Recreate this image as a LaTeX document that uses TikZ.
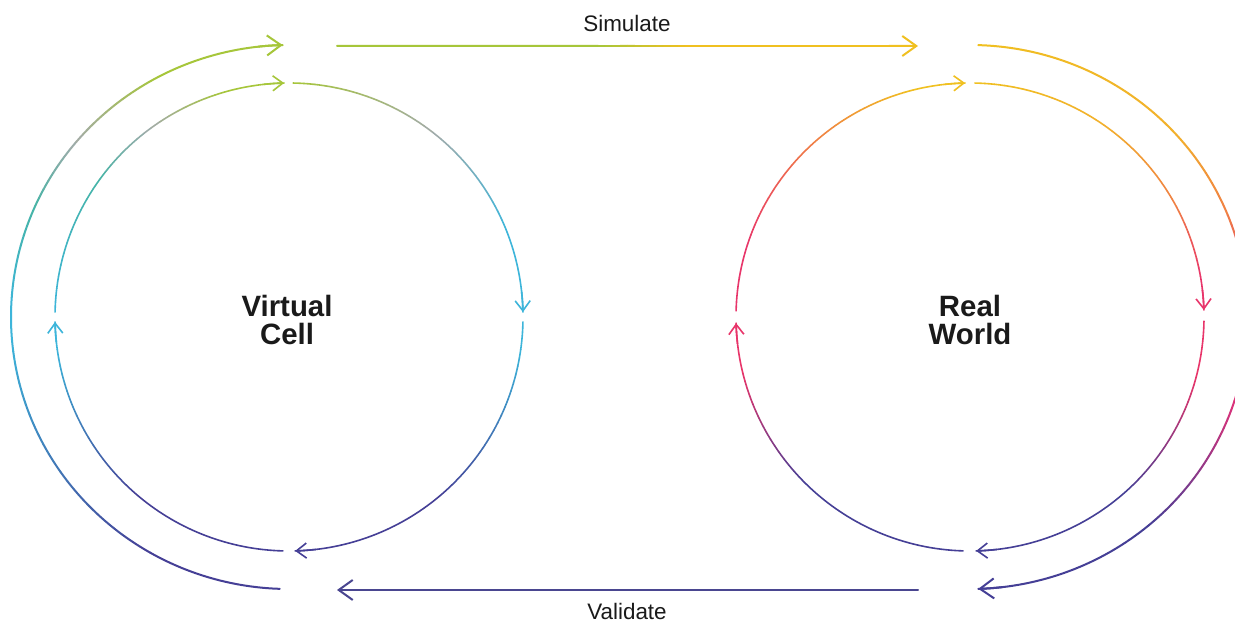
\documentclass[tikz,border=0pt]{standalone}
\usepackage{fontspec}
\setmainfont{Liberation Sans}
\usetikzlibrary{arrows.meta,calc}
\definecolor{lime}{HTML}{A6C63A}
\definecolor{cyanc}{HTML}{3DB5DA}
\definecolor{navy}{HTML}{453F96}
\definecolor{greyc}{HTML}{A3ABA9}
\definecolor{tealc}{HTML}{46B4A6}
\definecolor{yell}{HTML}{F0C020}
\definecolor{yello}{HTML}{F2B02C}
\definecolor{orng}{HTML}{F07E45}
\definecolor{pinkc}{HTML}{E8356A}
\definecolor{magc}{HTML}{DF3279}
\definecolor{valc}{HTML}{4A4690}
\definecolor{txt}{HTML}{1A1A1A}

\newcommand\gradArc[8]{% center, rx, ry, a0, a1, colA, colB, N
  \foreach \k in {1,...,#8}{%
    \pgfmathsetmacro\gsa{(#4)+((#5)-(#4))*(\k-1)/#8}%
    \pgfmathsetmacro\gea{(#4)+((#5)-(#4))*\k/#8}%
    \pgfmathtruncatemacro\gpc{100*(\k-0.5)/#8}%
    \colorlet{segc}{#7!\gpc!#6}%
    \draw[segc] (#1) ++(\gsa:#2 and #3) arc[start angle=\gsa, end angle=\gea, x radius=#2, y radius=#3];
  }}
\newcommand\arcTip[6]{% center, rx, ry, end angle, colour, tip style
  \draw[#5, #6] (#1) ++({(#4)+5}:#2 and #3) arc[start angle={(#4)+5}, end angle=#4, x radius=#2, y radius=#3];}
\newcommand\gradSeg[7]{% A, B, t0, t1, colA, colB, N
  \foreach \k in {1,...,#7}{%
    \pgfmathsetmacro\gta{(#3)+((#4)-(#3))*(\k-1)/#7}%
    \pgfmathsetmacro\gtb{(#3)+((#4)-(#3))*\k/#7}%
    \pgfmathtruncatemacro\gpc{100*(\k-0.5)/#7}%
    \colorlet{segc}{#6!\gpc!#5}%
    \draw[segc] ($(#1)!\gta!(#2)$) -- ($(#1)!\gtb!(#2)$);
  }}

\tikzset{
  bigtip/.style={-{Straight Barb[length=14bp,width=20bp,line width=2bp]}},
  smalltip/.style={-{Straight Barb[length=10bp,width=15bp,line width=1.6bp]}},
  outer/.style={line width=2bp, line cap=round},
  inner/.style={line width=1.6bp, line cap=round},
  biglbl/.style={font=\bfseries\fontsize{29.5}{28}\selectfont, text=txt, align=center, inner sep=0pt},
  lbl/.style={font=\fontsize{22.5}{27}\selectfont, text=txt, inner sep=0pt, anchor=base},
}

\begin{document}
\begin{tikzpicture}[x=1bp,y=1bp]
\useasboundingbox (0,0) rectangle (1235,624);
\fill[white] (0,0) rectangle (1235,624);
\clip (0,0) rectangle (1235,624);

\coordinate (L) at (289,307);
\coordinate (R) at (970,307);
\coordinate (simA) at (337,578);
\coordinate (simB) at (918,578);
\coordinate (valA) at (918,34);
\coordinate (valB) at (337,34);

% ---------- left circle, inner ----------
\begin{scope}[inner]
\gradArc{L}{234bp}{234bp}{89}{52}{lime}{greyc}{14}
\gradArc{L}{234bp}{234bp}{52}{22}{greyc}{cyanc}{12}
\gradArc{L}{234bp}{234bp}{22}{1.2}{cyanc}{cyanc}{2}
\arcTip{L}{234bp}{234bp}{1.2}{cyanc}{smalltip}
\gradArc{L}{234bp}{234bp}{-1.2}{-8}{cyanc}{cyanc}{1}
\gradArc{L}{234bp}{234bp}{-8}{-50}{cyanc}{navy}{20}
\gradArc{L}{234bp}{234bp}{-50}{-88.5}{navy}{navy}{1}
\arcTip{L}{234bp}{234bp}{-88.5}{navy}{smalltip}
\gradArc{L}{234bp}{234bp}{-91.5}{-130}{navy}{navy}{1}
\gradArc{L}{234bp}{234bp}{-130}{-172}{navy}{cyanc}{20}
\gradArc{L}{234bp}{234bp}{-172}{-178.8}{cyanc}{cyanc}{1}
\arcTip{L}{234bp}{234bp}{-178.8}{cyanc}{smalltip}
\gradArc{L}{234bp}{234bp}{-181.2}{-216}{cyanc}{tealc}{12}
\gradArc{L}{234bp}{234bp}{-216}{-234}{tealc}{greyc}{8}
\gradArc{L}{234bp}{234bp}{-234}{-254}{greyc}{lime}{8}
\gradArc{L}{234bp}{234bp}{-254}{-268.8}{lime}{lime}{2}
\arcTip{L}{234bp}{234bp}{-268.8}{lime}{smalltip}
\end{scope}

% ---------- left circle, outer ----------
\begin{scope}[outer]
\gradArc{L}{278bp}{272bp}{-91.9}{-120}{navy}{navy}{1}
\gradArc{L}{278bp}{272bp}{-120}{-175}{navy}{cyanc}{24}
\gradArc{L}{278bp}{272bp}{-175}{-182}{cyanc}{cyanc}{1}
\gradArc{L}{278bp}{272bp}{-182}{-204}{cyanc}{tealc}{10}
\gradArc{L}{278bp}{272bp}{-204}{-220}{tealc}{greyc}{8}
\gradArc{L}{278bp}{272bp}{-220}{-242}{greyc}{lime}{10}
\gradArc{L}{278bp}{272bp}{-242}{-268.7}{lime}{lime}{2}
\arcTip{L}{278bp}{272bp}{-268.7}{lime}{bigtip}
\end{scope}

% ---------- right circle, inner ----------
\begin{scope}[inner]
\gradArc{R}{234bp}{234bp}{88.8}{55}{yell}{yello}{14}
\gradArc{R}{234bp}{234bp}{55}{28}{yello}{orng}{12}
\gradArc{R}{234bp}{234bp}{28}{10}{orng}{pinkc}{8}
\gradArc{R}{234bp}{234bp}{10}{1.7}{pinkc}{pinkc}{1}
\arcTip{R}{234bp}{234bp}{1.7}{pinkc}{smalltip}
\gradArc{R}{234bp}{234bp}{-1}{-15}{pinkc}{pinkc}{1}
\gradArc{R}{234bp}{234bp}{-15}{-48}{pinkc}{navy}{16}
\gradArc{R}{234bp}{234bp}{-48}{-88.5}{navy}{navy}{1}
\arcTip{R}{234bp}{234bp}{-88.5}{navy}{smalltip}
\gradArc{R}{234bp}{234bp}{-91.7}{-135}{navy}{navy}{1}
\gradArc{R}{234bp}{234bp}{-135}{-166}{navy}{pinkc}{16}
\gradArc{R}{234bp}{234bp}{-166}{-178.5}{pinkc}{pinkc}{1}
\arcTip{R}{234bp}{234bp}{-178.5}{pinkc}{smalltip}
\gradArc{R}{234bp}{234bp}{-181.5}{-198}{pinkc}{pinkc}{2}
\gradArc{R}{234bp}{234bp}{-198}{-228}{pinkc}{orng}{12}
\gradArc{R}{234bp}{234bp}{-228}{-256}{orng}{yell}{12}
\gradArc{R}{234bp}{234bp}{-256}{-268.8}{yell}{yell}{2}
\arcTip{R}{234bp}{234bp}{-268.8}{yell}{smalltip}
\end{scope}

% ---------- right circle, outer ----------
\begin{scope}[outer]
\gradArc{R}{278bp}{272bp}{88.3}{42}{yell}{yello}{14}
\gradArc{R}{278bp}{272bp}{42}{22}{yello}{orng}{8}
\gradArc{R}{278bp}{272bp}{22}{5}{orng}{magc}{8}
\gradArc{R}{278bp}{272bp}{5}{-18}{magc}{magc}{1}
\gradArc{R}{278bp}{272bp}{-18}{-50}{magc}{navy}{16}
\gradArc{R}{278bp}{272bp}{-50}{-88.3}{navy}{navy}{1}
\arcTip{R}{278bp}{272bp}{-88.3}{navy}{bigtip}
\end{scope}

% ---------- straight connectors ----------
\begin{scope}[outer]
\gradSeg{simA}{simB}{0}{0.45}{lime}{lime}{1}
\gradSeg{simA}{simB}{0.45}{0.6}{lime}{yell}{12}
\gradSeg{simA}{simB}{0.6}{0.97}{yell}{yell}{1}
\draw[yell, bigtip] ($(simA)!0.95!(simB)$) -- (simB);
\draw[valc, bigtip] (valA) -- (valB);
\end{scope}

% ---------- labels ----------
\node[lbl] (sim) at (627,592) {Simulate};
\node[lbl] (val) at (627,4) {Validate};
\node[biglbl] (vc) at (287,304) {Virtual\\Cell};
\node[biglbl] (rw) at (970,304) {Real\\World};
\end{tikzpicture}
\end{document}
